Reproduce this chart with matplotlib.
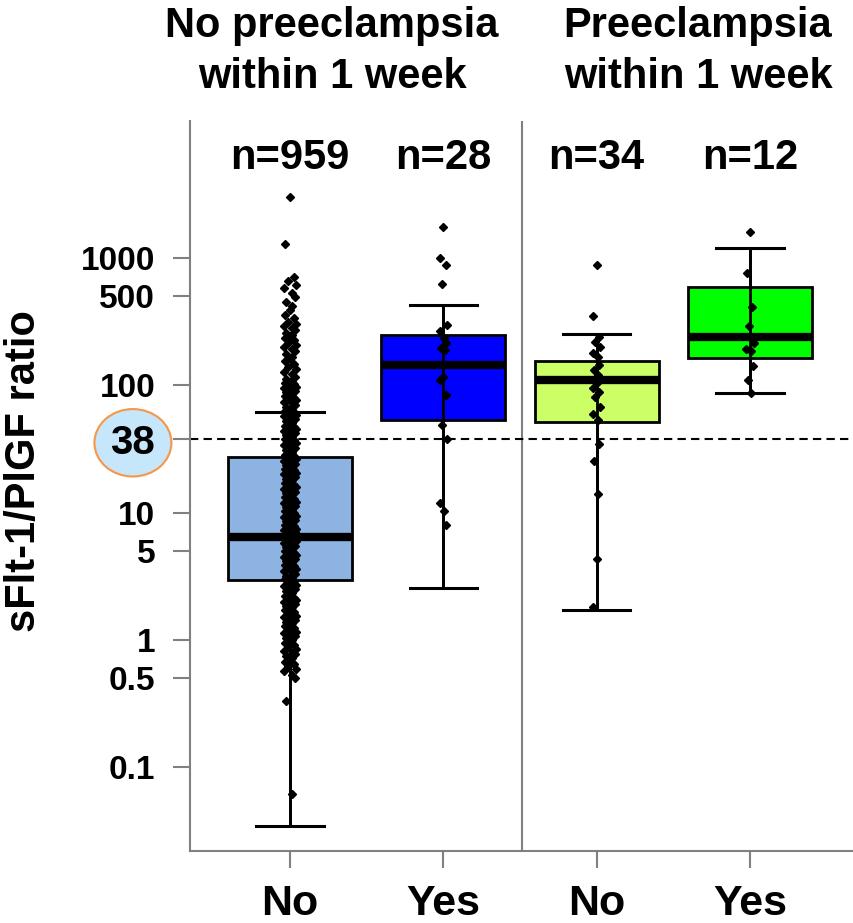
import numpy as np
import matplotlib
matplotlib.use("Agg")
from matplotlib import pyplot as plt

plt.rcParams["font.family"] = ["Liberation Sans", "DejaVu Sans"]
plt.rcParams["font.weight"] = "bold"

# Groups (left to right)
groups = ["No", "Yes", "No", "Yes"]
n_labels = ["n=959", "n=28", "n=34", "n=12"]
panel_titles = [["No preeclampsia", "within 1 week"], ["Preeclampsia", "within 1 week"]]
box_colors = ["#8db3e2", "#0000ff", "#ccff66", "#00ff00"]

# Box statistics
q1 = [2.95, 53.6, 51.2, 164]
medians = [6.4, 144, 110, 238]
q3 = [27.2, 247, 155, 589]
whis_lo = [0.0346, 2.55, 1.71, 86.4]
whis_hi = [61.6, 427, 253, 1199]

# Individual points
pts_no_no = [3020, 1290, 713, 660, 615, 580, 531, 490, 454, 420, 390, 360, 335,
             316, 305, 295, 280, 270, 260, 250, 243, 236, 225, 215, 207, 200,
             192, 185, 176, 167, 160, 155, 147, 140, 134, 128, 122, 117,
             113, 110, 107, 105, 102, 100, 97, 95, 92, 90, 88, 86, 84, 82, 80,
             78, 76, 74, 72, 70, 68, 66, 64.5, 63, 61.5, 60, 58.5, 57, 55.5,
             54, 52.5, 51, 49.5, 48, 47, 46, 45, 44, 43, 42, 41, 40, 39, 38,
             37, 36, 35, 34, 33, 32, 31, 30, 29.2, 28.5, 27.7, 27, 26.2, 25.5,
             24.7, 24, 23.5, 23, 22.5, 22, 21.5, 21, 20.5, 20, 19.5, 19, 18.5,
             18, 17.5, 17, 16.6, 16.2, 15.8, 15.4, 15.0, 14.6, 14.2, 13.9,
             13.5, 13.2, 12.8, 12.5, 12.2, 11.9, 11.6, 11.3, 11.0, 10.7, 10.4,
             10.2, 9.9, 9.7, 9.4, 9.2, 9.0, 8.8, 8.6, 8.4, 8.2, 8.0, 7.8, 7.6,
             7.45, 7.3, 7.15, 7.0, 6.85, 6.7, 6.55, 6.4, 6.25, 6.1, 5.95, 5.8,
             5.65, 5.5, 5.35, 5.2, 5.1, 5.0, 4.85, 4.7, 4.6, 4.5, 4.4, 4.3,
             4.2, 4.1, 4.0, 3.9, 3.8, 3.7, 3.6, 3.5, 3.4, 3.3, 3.2, 3.1, 3.05,
             3.0, 2.9, 2.8, 2.72, 2.65, 2.57, 2.5, 2.42, 2.35, 2.28, 2.2, 2.15,
             2.1, 2.05, 2.0, 1.95, 1.9, 1.85, 1.8, 1.75, 1.7, 1.65, 1.6, 1.55,
             1.5, 1.46, 1.42, 1.38, 1.35, 1.31, 1.28, 1.24, 1.2, 1.16, 1.13,
             1.1, 1.07, 1.03, 1.0, 0.97, 0.94, 0.91, 0.88, 0.85, 0.82, 0.79,
             0.77, 0.74, 0.72, 0.69, 0.67, 0.64, 0.62, 0.59, 0.57, 0.53, 0.5,
             0.33, 0.061]
pts_no_yes = [1762, 1000, 881, 621, 297, 268, 234, 214, 195, 190, 117, 110, 84,
              48.7, 37.6, 11.8, 10.3, 8.0]
pts_pe_no = [877, 348, 240, 220, 200, 178, 167, 145, 132, 120, 105, 94.6, 89,
             81, 67.6, 60, 53, 34.4, 25.5, 14, 4.29, 1.8]
pts_pe_yes = [1610, 758, 414, 292, 214, 193, 186, 143, 110, 87.5]
points = [pts_no_no, pts_no_yes, pts_pe_no, pts_pe_yes]

positions = [1, 2, 3, 4]
jitter = [0.0, -0.035, 0.025, -0.015, 0.04, -0.04, 0.01, 0.03, -0.025, 0.015]

fig = plt.figure(figsize=(8.54, 9.23), dpi=100)
ax = fig.add_axes([190 / 854, 1 - 851 / 923, 664 / 854, 730 / 923])

stats = []
for i in range(4):
    stats.append({"med": medians[i], "q1": q1[i], "q3": q3[i],
                  "whislo": whis_lo[i], "whishi": whis_hi[i]})

bp = ax.bxp(stats, positions=positions, widths=0.81, capwidths=0.44,
            patch_artist=True, showfliers=False,
            boxprops=dict(edgecolor="black", linewidth=2),
            medianprops=dict(color="black", linewidth=6, solid_capstyle="butt"),
            whiskerprops=dict(color="black", linewidth=2),
            capprops=dict(color="black", linewidth=2.2))
for patch, c in zip(bp["boxes"], box_colors):
    patch.set_facecolor(c)

# whisker line runs through the box
ax.vlines(positions, whis_lo, whis_hi, color="black", lw=2, zorder=3)

for i, vals in enumerate(points):
    amp = 1.0 if i == 0 else 0.6
    xs = [positions[i] + amp * jitter[k % len(jitter)] for k in range(len(vals))]
    ax.plot(xs, vals, "D", color="black", markersize=4.5, zorder=4)

ax.axhline(38, color="black", lw=1.5, ls=(0, (4, 2.5)), zorder=2)
ax.axvline(2.51, color="#808080", lw=1.5, zorder=1)

ax.set_yscale("log")
ax.set_ylim(0.0219, 11940)
ax.set_xlim(0.348, 4.678)

yt = [0.1, 0.5, 1, 5, 10, 38, 100, 500, 1000]
ax.set_yticks(yt)
ax.set_yticklabels(["0.1", "0.5", "1", "5", "10", "38", "100", "500", "1000"])
ax.yaxis.set_minor_locator(matplotlib.ticker.NullLocator())
ax.set_xticks(positions)
ax.set_xticklabels(groups)
ax.tick_params(axis="y", length=12, width=1.5, color="#808080", pad=13,
               labelsize=24)
ax.tick_params(axis="x", length=12, width=1.5, color="#808080", pad=12,
               labelsize=31)
for lab in ax.get_yticklabels():
    if lab.get_text() == "38":
        lab.set_fontsize(29)
        lab.set_bbox(dict(boxstyle="ellipse,pad=0.12", fc="#c6e6fb",
                          ec="#f79646", lw=1.5))

for s in ["top", "right"]:
    ax.spines[s].set_visible(False)
for s in ["left", "bottom"]:
    ax.spines[s].set_color("#808080")
    ax.spines[s].set_linewidth(1.5)

for i in range(4):
    ax.text(positions[i], 0.95, n_labels[i], transform=ax.get_xaxis_transform(),
            ha="center", va="center", fontsize=30, fontweight="bold")

title_x = [332 / 854, 698 / 854]
for t, x in zip(panel_titles, title_x):
    fig.text(x, 1 - 37 / 923, t[0], ha="center", va="baseline",
             fontsize=30, fontweight="bold")
    fig.text(x, 1 - 88 / 923, t[1], ha="center", va="baseline",
             fontsize=30, fontweight="bold")

fig.text(24 / 854, 1 - 471 / 923, "sFlt-1/PlGF ratio", rotation=90,
         ha="center", va="center", fontsize=30, fontweight="bold")

fig.savefig("out.png", dpi=100)
